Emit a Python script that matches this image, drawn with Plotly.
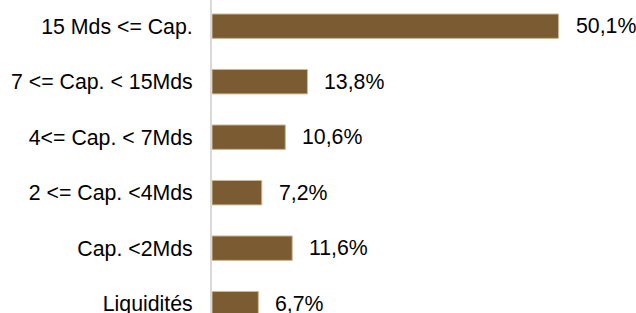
import plotly.graph_objects as go

categories = [
    "15 Mds <= Cap.",
    "7 <= Cap. < 15Mds",
    "4<= Cap. < 7Mds",
    "2 <= Cap. <4Mds",
    "Cap. <2Mds",
    "Liquidités",
]
values = [50.1, 13.8, 10.6, 7.2, 11.6, 6.7]
value_labels = [f"{v:.1f}".replace(".", ",") + "%" for v in values]

FONT = "Liberation Sans, Arial, sans-serif"
FS = 21.3

fig = go.Figure()
fig.add_trace(go.Bar(
    x=values,
    y=categories,
    orientation="h",
    marker=dict(color="#7B5C32", line=dict(color="#CDB995", width=1)),
    width=0.44,
    hoverinfo="skip",
))

for v, c, t in zip(values, categories, value_labels):
    fig.add_annotation(
        x=v, y=c, text=t, showarrow=False,
        xanchor="left", yanchor="middle", xshift=15,
        font=dict(family=FONT, size=FS, color="#000000"),
    )

fig.update_layout(
    width=636, height=313,
    margin=dict(l=212, r=9, t=0, b=0, autoexpand=False),
    paper_bgcolor="white", plot_bgcolor="white",
    showlegend=False,
    font=dict(family=FONT, size=FS, color="#000000"),
)
fig.update_xaxes(range=[0, 60], visible=False, showgrid=False, zeroline=False,
                 automargin=False)
fig.update_yaxes(
    type="category",
    categoryorder="array", categoryarray=categories,
    range=[5.168, -0.472],
    automargin=False,
    showgrid=False, zeroline=False,
    showline=True, linecolor="#D9D9D9", linewidth=2,
    ticks="", ticklabelstandoff=13,
    tickfont=dict(family=FONT, size=FS, color="#000000"),
)

fig.write_html(
    "out.html",
    config={"displayModeBar": False, "staticPlot": True},
    post_script="document.body.style.margin='0px';document.body.style.overflow='hidden';",
)
